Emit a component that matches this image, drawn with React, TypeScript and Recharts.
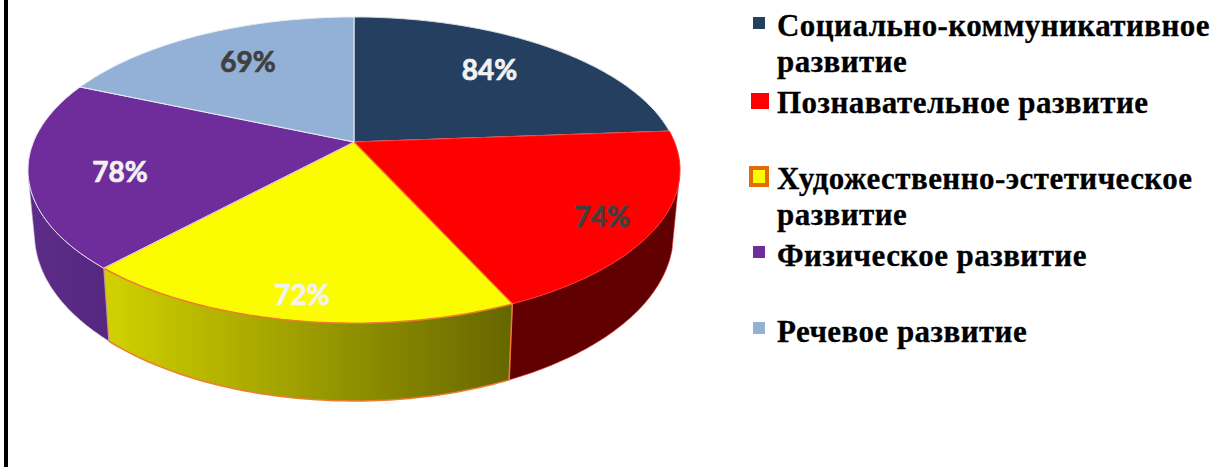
import { PieChart, Pie, Legend } from "recharts"

const categories = [
  "Социально-коммуникативное развитие",
  "Познавательное развитие",
  "Художественно-эстетическое развитие",
  "Физическое развитие",
  "Речевое развитие",
]
// the printed percentages
const percentLabels = [84, 74, 72, 78, 69]
// slice sizes as measured on the picture, they are not quite proportional to the printed numbers
const sliceShares = [85.7, 70, 66.8, 71, 66.5]

const COLORS = ["#243f60", "#ff0000", "#fcfc00", "#6f2c9b", "#93b1d6"]
const STROKES = ["#d8dde4", "#ff3030", "#ed7d31", "#e8e0f0", "#e8eef6"]
const WALLS = ["#1a2d45", "#600000", "url(#yellowWall)", "url(#purpleWall)", "#6d85a3"]
const LABEL_COLORS = ["#f2f2f2", "#404040", "#f2f2f2", "#f2f2f2", "#404040"]
const LABEL_RADIUS = [0.7, 0.84, 0.88, 0.72, 0.7]
const LABEL_NUDGE = [
  [-4, -4],
  [-3, 5],
  [1, -1],
  [-2, 6],
  [5, -3],
]

const tableData = categories.map((name, i) => ({
  name,
  value: sliceShares[i],
  label: percentLabels[i],
  fill: COLORS[i],
}))

const CX = 354
const CY = 142
// tilted disc, seen in perspective
const K = 0.183
const A = 147.9
const B = 320.5
const DEPTH = 61.6
const LOWER_X = 0.98
const LOWER_Y = 1.09

function project(deg: number, r = 1) {
  const rad = (deg * Math.PI) / 180
  const u = r * Math.sin(rad)
  const v = r * Math.cos(rad)
  const d = 1 + K * v
  return { x: (B * u) / d, y: (-A * v) / d }
}

function upper(deg: number) {
  const p = project(deg)
  return [CX + p.x, CY + p.y]
}

function lower(deg: number) {
  const p = project(deg)
  return [CX + p.x * LOWER_X, CY + DEPTH + p.y * LOWER_Y]
}

function arc(from: number, to: number, fn: (d: number) => number[]) {
  const pts = []
  const steps = Math.max(2, Math.ceil(Math.abs(to - from)))
  for (let i = 0; i <= steps; i++) {
    const [x, y] = fn(from + ((to - from) * i) / steps)
    pts.push(`${x.toFixed(1)} ${y.toFixed(1)}`)
  }
  return pts
}

function Slice3D(props: any) {
  const { startAngle, endAngle, index, payload } = props
  const i = index ?? tableData.findIndex((d) => d.name === (payload?.name ?? props.name))
  // recharts angles run counter clockwise from 3 o'clock
  const from = 90 - startAngle
  const to = 90 - endAngle
  const wallFrom = Math.max(from, 106)
  const wallTo = Math.min(to, 256)
  const top = `M${CX} ${CY} L${arc(from, to, upper).join(" L")} Z`

  return (
    <g>
      {wallFrom < wallTo && (
        <path
          d={`M${arc(wallFrom, wallTo, upper).join(" L")} L${arc(wallTo, wallFrom, lower).join(" L")} Z`}
          fill={WALLS[i]}
          stroke={i === 2 ? STROKES[i] : i === 3 ? "#cfc4dc" : "#ff5050"}
          strokeWidth={i === 2 ? 1.5 : 0.6}
        />
      )}
      <path d={top} fill={COLORS[i]} stroke={STROKES[i]} strokeWidth={i === 2 ? 1.2 : 1} />
    </g>
  )
}

function renderLabel(props: any) {
  const { midAngle, index } = props
  const p = project(90 - midAngle, LABEL_RADIUS[index])
  return (
    <text
      x={CX + p.x + LABEL_NUDGE[index][0]}
      y={CY + p.y + LABEL_NUDGE[index][1]}
      textAnchor="middle"
      dominantBaseline="central"
      fill={LABEL_COLORS[index]}
      stroke={LABEL_COLORS[index]}
      strokeWidth={0.7}
      style={{ fontFamily: "Lato, sans-serif", fontWeight: 700, fontSize: 28 }}
    >
      {percentLabels[index]}%
    </text>
  )
}

const LEGEND_LINES = [
  [["Социально-коммуникативное", 36], ["развитие", 72]],
  [["Познавательное развитие", 113]],
  [["Художественно-эстетическое", 189], ["развитие", 225]],
  [["Физическое развитие", 266]],
  [["Речевое развитие", 342]],
]
const LEGEND_BOXES = [
  [753, 17, 12, 12],
  [751, 93, 18, 16],
  [751, 168, 16, 17],
  [753, 246, 12, 12],
  [753, 322, 12, 12],
]

function renderLegend() {
  return (
    <svg width={1214} height={467} style={{ display: "block" }}>
      {LEGEND_BOXES.map(([x, y, w, h], i) => (
        <rect
          key={i}
          x={x}
          y={y}
          width={w}
          height={h}
          fill={COLORS[i]}
          stroke={i === 2 ? "#e36c0a" : "none"}
          strokeWidth={i === 2 ? 4 : 0}
        />
      ))}
      {LEGEND_LINES.flatMap((lines, i) =>
        lines.map(([text, y]) => (
          <text
            key={`${i}-${y}`}
            x={777}
            y={y as number}
            fill="#000"
            stroke="#000"
            strokeWidth={0.3}
            style={{ fontFamily: "'Liberation Serif', serif", fontWeight: 700, fontSize: 31, letterSpacing: 0.45 }}
          >
            {text}
          </text>
        ))
      )}
    </svg>
  )
}

export default function App() {
  return (
    <div style={{ position: "absolute", left: 0, top: 0, width: 1214, height: 467, background: "#fff" }}>
      <div style={{ position: "absolute", left: 4, top: 0, width: 3.5, height: 467, background: "#000" }} />
      <PieChart width={1214} height={467} margin={{ top: 0, right: 0, bottom: 0, left: 0 }}>
        <defs>
          <linearGradient id="yellowWall" gradientUnits="userSpaceOnUse" x1={103} y1={0} x2={513} y2={0}>
            <stop offset="0%" stopColor="#d2d200" />
            <stop offset="100%" stopColor="#666600" />
          </linearGradient>
          <linearGradient id="purpleWall" gradientUnits="userSpaceOnUse" x1={30} y1={0} x2={108} y2={0}>
            <stop offset="0%" stopColor="#5c2c88" />
            <stop offset="100%" stopColor="#562780" />
          </linearGradient>
        </defs>
        <Pie
          data={tableData}
          dataKey="value"
          nameKey="name"
          cx={CX}
          cy={CY}
          outerRadius={150}
          startAngle={90}
          endAngle={-270}
          paddingAngle={0}
          stroke="none"
          shape={Slice3D}
          label={renderLabel}
          labelLine={false}
          isAnimationActive={false}
        />
        <Legend
          content={renderLegend}
          wrapperStyle={{ position: "absolute", left: 0, top: 0, width: 1214, height: 467, pointerEvents: "none" }}
        />
      </PieChart>
    </div>
  )
}
